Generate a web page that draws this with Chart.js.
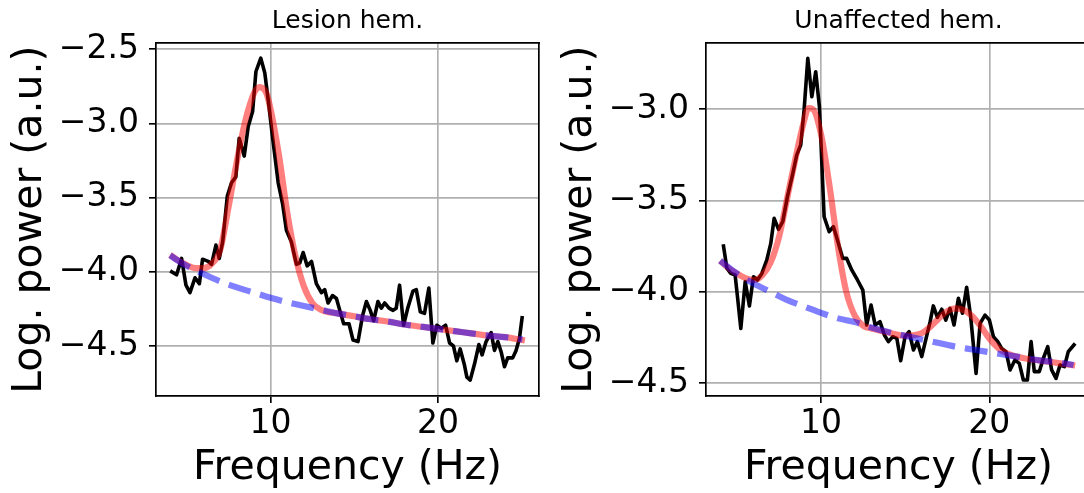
<!DOCTYPE html>
<html>
<head>
<meta charset="utf-8">
<script src="https://cdn.jsdelivr.net/npm/chart.js@4/dist/chart.umd.min.js"></script>
<style>
  html, body { margin:0; padding:0; background:#fff; overflow:hidden; width:1084px; height:493px; }
  canvas { position:absolute; top:0; }
  #c1 { left:0; }
  #c2 { left:550px; }
</style>
</head>
<body>
<canvas id="c1" width="540" height="493"></canvas>
<canvas id="c2" width="542" height="493"></canvas>
<script>
// ---------- data ----------
const xTickValues = [10, 20];
const xMin = 3.16, xMax = 26.04;

// Lesion hemisphere
const lesionTitle = 'Lesion hem.';
const lesionYTicks = [-2.5, -3.0, -3.5, -4.0, -4.5];
const lesionYMin = -4.837, lesionYMax = -2.46;
const lesionFreq = [4.10,4.39,4.69,4.95,5.19,5.49,5.75,5.94,6.28,6.48,6.74,6.94,7.14,7.42,7.67,7.93,8.13,8.43,8.67,8.93,9.13,9.42,9.66,9.86,10.12,10.46,10.72,10.95,11.25,11.55,11.75,11.95,12.19,12.45,12.74,13.04,13.24,13.44,13.70,13.94,14.14,14.37,14.69,14.93,15.23,15.49,15.73,15.96,16.16,16.42,16.62,16.82,17.08,17.32,17.51,17.71,17.95,18.21,18.51,18.71,18.95,19.20,19.46,19.70,19.94,20.20,20.46,20.70,20.93,21.13,21.33,21.59,21.73,21.93,22.19,22.45,22.64,22.88,23.18,23.38,23.58,23.78,23.98,24.17,24.47,24.67,24.87,25.03];
const lesionPower = [-4.00,-4.02,-3.91,-4.09,-4.14,-4.04,-4.08,-3.915,-3.93,-3.95,-3.82,-3.91,-3.80,-3.49,-3.40,-3.36,-3.10,-3.22,-3.02,-2.92,-2.65,-2.56,-2.66,-2.84,-3.09,-3.40,-3.54,-3.72,-3.80,-3.95,-3.94,-3.87,-3.96,-3.93,-4.08,-4.14,-4.12,-4.21,-4.16,-4.18,-4.26,-4.35,-4.35,-4.46,-4.47,-4.30,-4.20,-4.26,-4.33,-4.20,-4.245,-4.21,-4.245,-4.26,-4.245,-4.09,-4.36,-4.24,-4.13,-4.12,-4.27,-4.28,-4.11,-4.48,-4.36,-4.38,-4.36,-4.48,-4.50,-4.60,-4.52,-4.63,-4.71,-4.73,-4.62,-4.49,-4.56,-4.47,-4.41,-4.53,-4.47,-4.54,-4.64,-4.58,-4.58,-4.53,-4.45,-4.31];
const lesionFitFreq = [4.0,4.5,5,5.5,6,6.5,7,7.5,8,8.5,9,9.35,9.75,10,10.5,11,11.5,12,12.5,13,14,15,16,17,18,19,20,21,22,23,24,25.2];
const lesionFit = [-3.886,-3.925,-3.955,-3.975,-3.975,-3.945,-3.85,-3.56,-3.25,-2.98,-2.80,-2.755,-2.795,-2.90,-3.21,-3.60,-3.90,-4.10,-4.21,-4.255,-4.28,-4.30,-4.32,-4.335,-4.355,-4.37,-4.385,-4.40,-4.415,-4.43,-4.44,-4.462];
const lesionApFreq = [4,5,6,7,8,9,10,11,12,13,14,15,16,17,18,19,20,21,22,23,24,25.05];
const lesionAp = [-3.89,-3.96,-4.015,-4.065,-4.105,-4.14,-4.175,-4.205,-4.23,-4.255,-4.28,-4.30,-4.32,-4.335,-4.355,-4.37,-4.385,-4.40,-4.415,-4.43,-4.44,-4.455];

// Unaffected hemisphere
const unaffTitle = 'Unaffected hem.';
const unaffYTicks = [-3.0, -3.5, -4.0, -4.5];
const unaffYMin = -4.5695, unaffYMax = -2.6406;
const unaffFreq = [4.20,4.40,4.63,4.89,5.03,5.23,5.49,5.74,5.98,6.22,6.48,6.77,7.01,7.21,7.47,7.72,8.00,8.32,8.55,8.79,8.99,9.21,9.45,9.68,9.90,10.18,10.48,10.73,10.97,11.29,11.52,11.82,12.16,12.48,12.71,12.97,13.21,13.50,13.76,14.00,14.26,14.50,14.73,14.99,15.23,15.49,15.72,15.98,16.24,16.48,16.67,16.91,17.17,17.41,17.66,17.90,18.16,18.40,18.65,18.89,19.21,19.45,19.74,20.00,20.24,20.50,20.73,20.99,21.23,21.52,21.78,22.02,22.26,22.48,22.67,22.97,23.21,23.47,23.70,23.96,24.20,24.46,24.69,25.03];
const unaffPower = [-3.749,-3.871,-3.899,-3.908,-4.026,-4.20,-3.944,-4.077,-3.917,-3.935,-3.899,-3.826,-3.735,-3.598,-3.658,-3.616,-3.479,-3.352,-3.252,-3.197,-3.005,-2.723,-2.933,-2.796,-2.987,-3.589,-3.671,-3.643,-3.716,-3.817,-3.817,-3.88,-3.935,-3.99,-4.181,-4.072,-4.181,-4.163,-4.236,-4.272,-4.245,-4.254,-4.376,-4.245,-4.218,-4.318,-4.272,-4.354,-4.254,-4.163,-4.077,-4.139,-4.095,-4.154,-4.09,-4.181,-4.035,-4.117,-3.975,-4.136,-4.446,-4.172,-4.127,-4.154,-4.245,-4.272,-4.309,-4.327,-4.427,-4.373,-4.391,-4.482,-4.482,-4.272,-4.436,-4.436,-4.363,-4.30,-4.427,-4.473,-4.40,-4.409,-4.327,-4.29];
const unaffFitFreq = [4.0,4.5,5,5.5,6,6.5,7,7.5,8,8.5,9,9.25,9.5,10,10.5,11,11.5,12,12.5,13,14,15,16,16.5,17,17.5,18,18.5,19,19.5,20,20.5,21,22,23,24,25.1];
const unaffFit = [-3.83,-3.87,-3.90,-3.925,-3.935,-3.91,-3.84,-3.70,-3.48,-3.26,-3.06,-2.995,-3.00,-3.14,-3.42,-3.75,-4.00,-4.13,-4.185,-4.20,-4.222,-4.24,-4.225,-4.19,-4.145,-4.105,-4.09,-4.10,-4.135,-4.19,-4.255,-4.305,-4.335,-4.362,-4.376,-4.388,-4.403];
const unaffApFreq = [4,5,6,7,8,9,10,11,12,13,14,15,16,17,18,19,20,21,22,23,24,25];
const unaffAp = [-3.83,-3.90,-3.955,-4.00,-4.045,-4.08,-4.115,-4.145,-4.165,-4.195,-4.22,-4.24,-4.26,-4.28,-4.30,-4.315,-4.33,-4.345,-4.36,-4.375,-4.385,-4.40];

// ---------- styling / build ----------
Chart.defaults.font.family = "'DejaVu Sans', sans-serif";
Chart.defaults.color = '#000';
const GRID = '#b0b0b0';

function pts(xs, ys) { return xs.map((x, i) => ({x: x, y: ys[i]})); }
function fmt(v) { return (v < 0 ? '\u2212' : '') + Math.abs(v).toFixed(1); }

function makeChart(id, title, freq, power, fitFreq, fit, apFreq, ap, yMin, yMax, yTicks) {
  return new Chart(document.getElementById(id), {
    type: 'line',
    data: {
      datasets: [
        { data: pts(apFreq, ap), borderColor: 'rgba(0,0,255,0.5)', borderWidth: 6.2,
          borderDash: [22.9, 9.9], borderCapStyle: 'butt', pointRadius: 0,
          cubicInterpolationMode: 'monotone', order: 0, xAxisID: 'x', yAxisID: 'y' },
        { data: pts(fitFreq, fit), borderColor: 'rgba(255,0,0,0.5)', borderWidth: 6.2,
          pointRadius: 0, cubicInterpolationMode: 'monotone', borderJoinStyle: 'round',
          order: 1, xAxisID: 'x', yAxisID: 'y' },
        { data: pts(freq, power), borderColor: '#000', borderWidth: 3.6, pointRadius: 0,
          tension: 0, borderJoinStyle: 'round', borderCapStyle: 'square',
          order: 2, xAxisID: 'x', yAxisID: 'y' }
      ]
    },
    options: {
      responsive: false, animation: false, events: [],
      layout: { padding: 0 },
      plugins: { legend: { display: false }, tooltip: { enabled: false }, title: { display: false } },
      scales: {
        x: {
          type: 'linear', position: 'bottom', min: xMin, max: xMax,
          afterBuildTicks: s => { s.ticks = xTickValues.map(v => ({value: v})); },
          afterFit: s => { s.height = 97; },
          ticks: { font: { size: 33, lineHeight: 1.2 }, color: '#000', padding: 2, maxRotation: 0,
                   callback: v => String(v) },
          grid: { color: GRID, lineWidth: 1.65, tickLength: 7, tickColor: '#000', tickWidth: 1.65 },
          border: { display: true, color: '#000', width: 1.7 },
          title: { display: true, text: 'Frequency (Hz)', color: '#000',
                   font: { size: 41, lineHeight: 1 }, padding: { top: 0, bottom: 3.7 } }
        },
        xTop: {
          type: 'linear', position: 'top', min: xMin, max: xMax,
          afterFit: s => { s.height = 43.3; },
          ticks: { display: false },
          grid: { display: false, drawTicks: false },
          border: { display: true, color: '#000', width: 1.7 },
          title: { display: true, text: title, color: '#000',
                   font: { size: 25, lineHeight: 1 }, padding: { top: 8.9, bottom: 0 } }
        },
        y: {
          type: 'linear', position: 'left', min: yMin, max: yMax,
          afterBuildTicks: s => { s.ticks = yTicks.map(v => ({value: v})); },
          afterFit: s => { s.width = 156; },
          ticks: { font: { size: 33 }, color: '#000', padding: 10, callback: v => fmt(v) },
          grid: { color: GRID, lineWidth: 1.65, tickLength: 7, tickColor: '#000', tickWidth: 1.65 },
          border: { display: true, color: '#000', width: 1.7 },
          title: { display: true, text: 'Log. power (a.u.)', color: '#000',
                   font: { size: 41, lineHeight: 1 }, padding: { top: 9.8, bottom: 0 } }
        },
        yRight: {
          type: 'linear', position: 'right', min: yMin, max: yMax,
          afterFit: s => { s.width = 1; },
          ticks: { display: false },
          grid: { display: false, drawTicks: false },
          border: { display: true, color: '#000', width: 1.7 }
        }
      }
    }
  });
}

makeChart('c1', lesionTitle, lesionFreq, lesionPower, lesionFitFreq, lesionFit,
          lesionApFreq, lesionAp, lesionYMin, lesionYMax, lesionYTicks);
makeChart('c2', unaffTitle, unaffFreq, unaffPower, unaffFitFreq, unaffFit,
          unaffApFreq, unaffAp, unaffYMin, unaffYMax, unaffYTicks);
</script>
</body>
</html>
